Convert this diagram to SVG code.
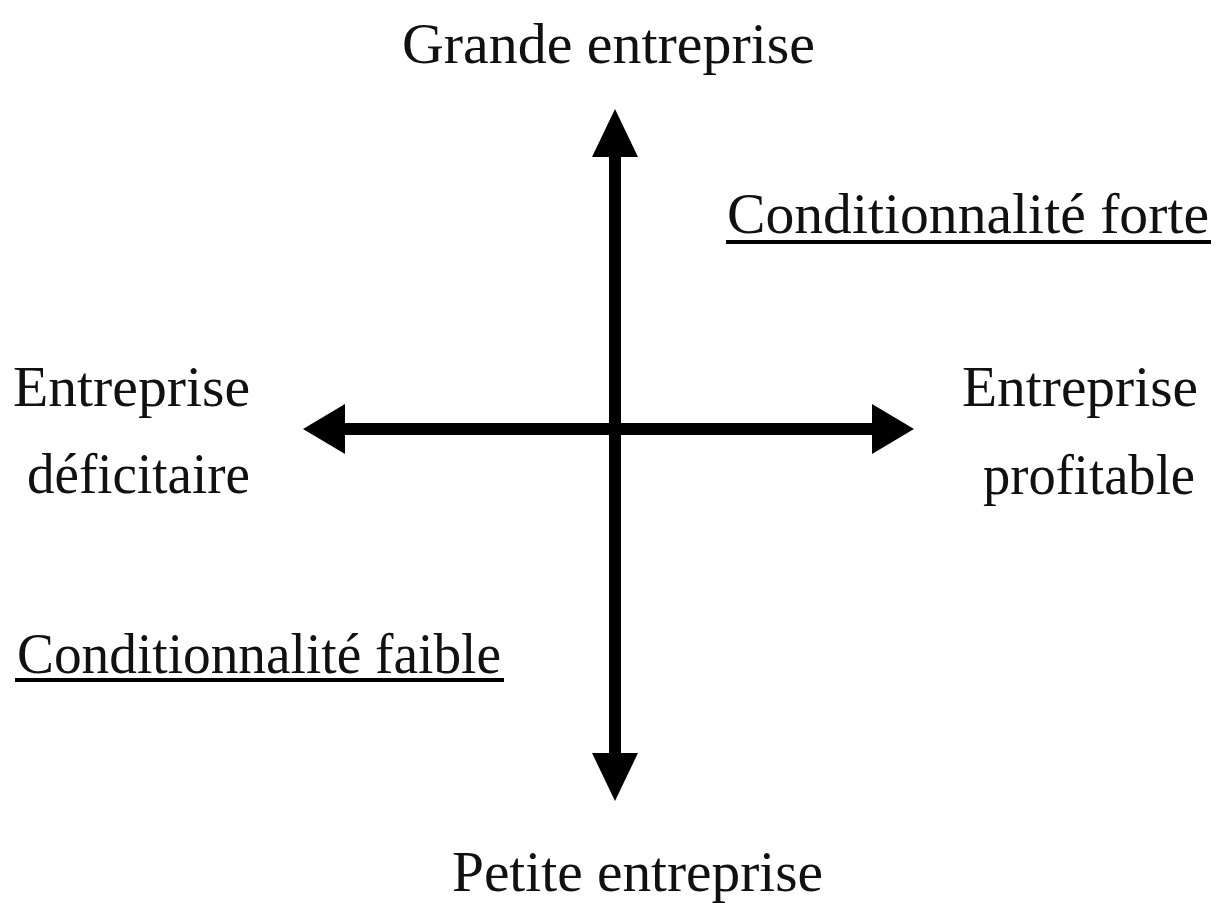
<svg xmlns="http://www.w3.org/2000/svg" width="1216" height="903" viewBox="0 0 1216 903">
<style>
.t{font-family:"Liberation Serif","Times New Roman",serif;font-size:56px;fill:#111;}
.ax{stroke:#000;stroke-width:12;fill:none;}
.hd{fill:#000;stroke:none;}
.ul{fill:#000;}
</style>
<rect width="1216" height="903" fill="#fff"/>
<g id="connectors">
<line class="ax" x1="615" y1="150" x2="615" y2="760"/>
<line class="ax" x1="340" y1="429" x2="878" y2="429"/>
<polygon class="hd" points="615,109 592,157 638,157"/>
<polygon class="hd" points="615,801 592,753 638,753"/>
<polygon class="hd" points="303,429 345,404 345,454"/>
<polygon class="hd" points="914,429 872,404 872,454"/>
</g>
<g id="top"><text class="t" x="402" y="63" textLength="413" lengthAdjust="spacingAndGlyphs">Grande entreprise</text></g>
<g id="bottom"><text class="t" x="452" y="891" textLength="371" lengthAdjust="spacingAndGlyphs">Petite entreprise</text></g>
<g id="left">
<text class="t" x="13" y="406" textLength="237" lengthAdjust="spacingAndGlyphs">Entreprise</text>
<text class="t" x="27" y="493" textLength="223" lengthAdjust="spacingAndGlyphs">déficitaire</text>
</g>
<g id="right">
<text class="t" x="962" y="406" textLength="236" lengthAdjust="spacingAndGlyphs">Entreprise</text>
<text class="t" x="983" y="494" textLength="212" lengthAdjust="spacingAndGlyphs">profitable</text>
</g>
<g id="strong">
<text class="t" x="727" y="233" textLength="482" lengthAdjust="spacingAndGlyphs">Conditionnalité forte</text>
<rect class="ul" x="726" y="240" width="485" height="4"/>
</g>
<g id="weak">
<text class="t" x="17" y="673" textLength="484" lengthAdjust="spacingAndGlyphs">Conditionnalité faible</text>
<rect class="ul" x="15" y="678" width="489" height="4"/>
</g>
</svg>
